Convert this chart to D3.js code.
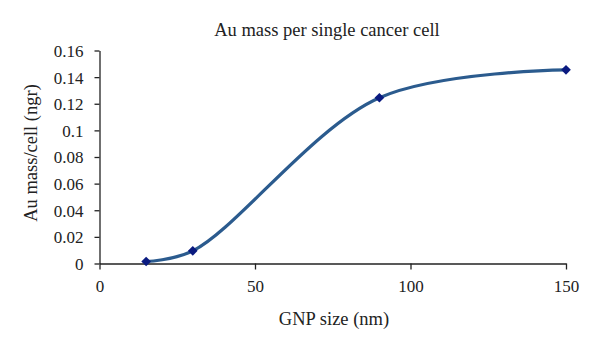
<!DOCTYPE html>
<html>
<head>
<meta charset="UTF-8">
<style>
  body { margin: 0; background: #fff; }
  svg { display: block; }
  text { font-family: 'Liberation Serif', 'DejaVu Serif', serif; fill: #222; }
</style>
</head>
<body>
<svg width="600" height="349"></svg>
<script src="https://d3js.org/d3.v7.min.js"></script>
<script>
  // data
  let sizes = [15, 30, 90, 150];
  let masses = [0.0015, 0.0095, 0.1245, 0.1455];
  let xTicks = [0, 50, 100, 150];
  let yTicks = [0, 0.02, 0.04, 0.06, 0.08, 0.1, 0.12, 0.14, 0.16];

  let svg = d3.select("svg");

  let x = d3.scaleLinear().domain([0, 150]).range([99.5, 566]);
  let y = d3.scaleLinear().domain([0, 0.16]).range([263.5, 50.5]);

  // axes
  let xAxis = svg.append("g")
    .attr("transform", "translate(0,263.5)")
    .call(d3.axisBottom(x).tickValues(xTicks).tickSize(6).tickSizeOuter(0).tickPadding(8));
  let yAxis = svg.append("g")
    .attr("transform", "translate(99.5,0)")
    .call(d3.axisLeft(y).tickValues(yTicks).tickSize(5).tickSizeOuter(0).tickPadding(11)
      .tickFormat(d => d3.format("")(+d.toFixed(2))));

  [xAxis, yAxis].forEach(a => {
    a.selectAll("path, line").attr("stroke", "#222").attr("stroke-width", 1.3);
    a.selectAll("text").style("font-size", "17px").attr("fill", "#222");
  });
  xAxis.selectAll("text").attr("dy", "0.85em");
  yAxis.selectAll("text").attr("dy", "0.35em");

  // smoothed line
  let pts = sizes.map((s, i) => [s, masses[i]]);
  let line = d3.line()
    .x(d => x(d[0]))
    .y(d => y(d[1]))
    .curve(d3.curveCatmullRom.alpha(0.5));

  svg.append("path")
    .datum(pts)
    .attr("d", line)
    .attr("fill", "none")
    .attr("stroke", "#2b5b8e")
    .attr("stroke-width", 3.2);

  // diamond markers
  svg.append("g")
    .selectAll("path")
    .data(pts)
    .enter().append("path")
    .attr("d", d3.symbol().type(d3.symbolDiamond2).size(60))
    .attr("transform", d => `translate(${x(d[0])},${y(d[1])})`)
    .attr("fill", "#0a1a80");

  // titles
  svg.append("text")
    .attr("x", 327).attr("y", 36)
    .attr("text-anchor", "middle")
    .style("font-size", "18.5px")
    .text("Au mass per single cancer cell");

  svg.append("text")
    .attr("x", 334).attr("y", 325)
    .attr("text-anchor", "middle")
    .style("font-size", "18.5px")
    .text("GNP size (nm)");

  svg.append("text")
    .attr("transform", "translate(37,153) rotate(-90)")
    .attr("text-anchor", "middle")
    .style("font-size", "18.5px")
    .text("Au mass/cell (ngr)");
</script>
</body>
</html>
